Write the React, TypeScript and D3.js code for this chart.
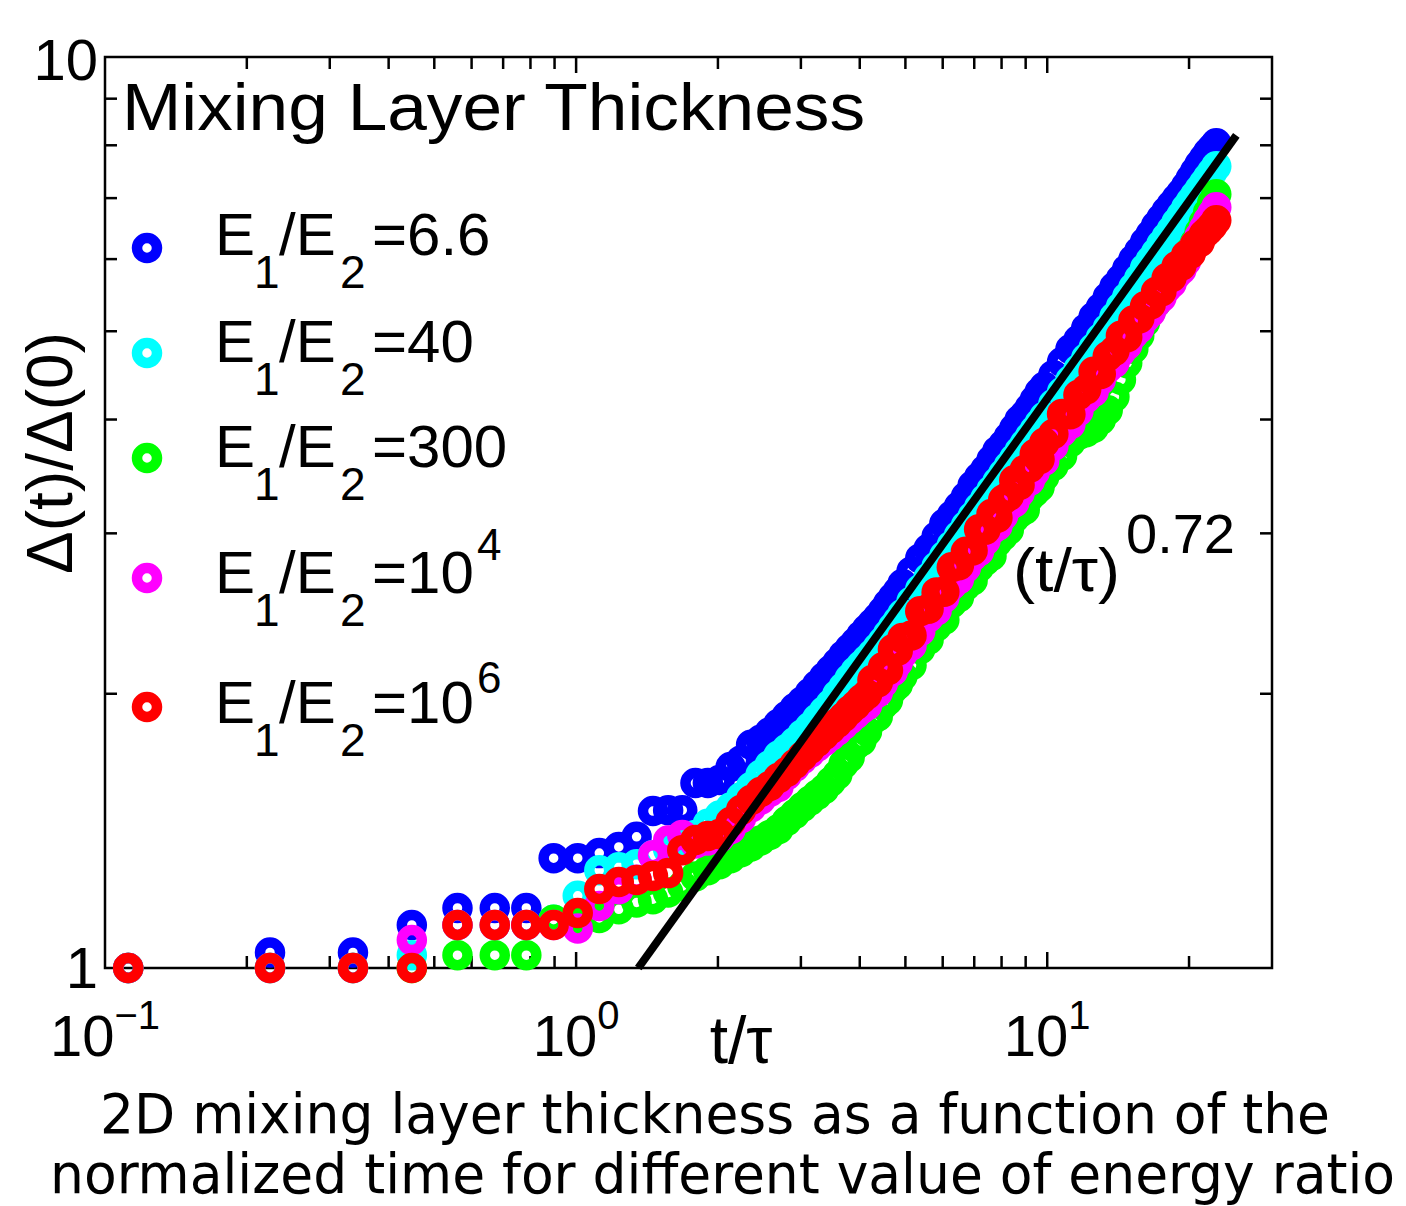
import * as d3 from 'd3'

// sampled times t/tau (every saved step at first, thinned out where the rings pile up)
const tOverTau = [
  0.112, 0.224, 0.336, 0.448, 0.56, 0.672, 0.784, 0.896, 1.008, 1.12,
  1.232, 1.344, 1.456, 1.568, 1.68, 1.792, 1.904, 2.016, 2.128, 2.24,
  2.352, 2.464, 2.576, 2.688, 2.8, 2.912, 3.024, 3.136, 3.248, 3.36,
  3.472, 3.584, 3.696, 3.808, 3.92, 4.032, 4.144, 4.256, 4.368, 4.48,
  4.592, 4.704, 4.816, 4.928,
  5.152, 5.376, 5.6, 5.824, 6.048, 6.272, 6.496, 6.72, 6.944, 7.168,
  7.392, 7.616, 7.84, 8.064, 8.288, 8.512, 8.736, 8.96, 9.184, 9.408,
  9.632, 9.856,
  10.304, 10.752, 11.2, 11.648, 12.096, 12.544, 12.992, 13.44, 13.888, 14.336,
  14.784, 15.232, 15.68, 16.128, 16.576, 17.024, 17.472, 17.92, 18.368, 18.816,
  19.264, 19.712, 20.16, 20.608, 21.056, 21.504, 21.952, 22.4, 22.848,
]

// delta(t)/delta(0) for each energy ratio E1/E2
const ratio6p6 = [
  1.0, 1.04, 1.04, 1.115, 1.164, 1.164, 1.164, 1.32, 1.32, 1.337,
  1.358, 1.393, 1.487, 1.49, 1.49, 1.596, 1.596, 1.608, 1.662, 1.69,
  1.758, 1.78, 1.815, 1.853, 1.891, 1.929, 1.963, 2.004, 2.045, 2.085,
  2.124, 2.163, 2.205, 2.242, 2.278, 2.318, 2.355, 2.39, 2.425, 2.465,
  2.51, 2.55, 2.59, 2.64,
  2.725, 2.816, 2.886, 2.976, 3.074, 3.139, 3.211, 3.29, 3.385, 3.456,
  3.524, 3.61, 3.695, 3.752, 3.827, 3.911, 3.995, 4.048, 4.121, 4.203,
  4.285, 4.345,
  4.475, 4.626, 4.777, 4.889, 5.036, 5.184, 5.304, 5.447, 5.592, 5.707,
  5.85, 5.992, 6.118, 6.261, 6.385, 6.526, 6.648, 6.77, 6.88, 6.99,
  7.09, 7.213, 7.351, 7.485, 7.622, 7.738, 7.854, 7.947, 8.041,
]
const ratio40 = [
  1.0, 1.0, 1.0, 1.033, 1.115, 1.115, 1.115, 1.13, 1.2, 1.28,
  1.29, 1.3, 1.33, 1.35, 1.37, 1.4, 1.44, 1.47, 1.5, 1.54,
  1.58, 1.63, 1.67, 1.71, 1.739, 1.77, 1.806, 1.839, 1.877, 1.913,
  1.949, 1.995, 2.034, 2.078, 2.117, 2.149, 2.181, 2.212, 2.248, 2.284,
  2.324, 2.366, 2.405, 2.446,
  2.526, 2.604, 2.682, 2.759, 2.835, 2.91, 2.984, 3.058, 3.13, 3.204,
  3.275, 3.346, 3.417, 3.487, 3.557, 3.625, 3.694, 3.761, 3.829, 3.896,
  3.962, 4.028,
  4.159, 4.288, 4.417, 4.543, 4.669, 4.793, 4.916, 5.036, 5.184, 5.317,
  5.45, 5.582, 5.714, 5.863, 5.98, 6.095, 6.226, 6.339, 6.454, 6.583,
  6.693, 6.823, 6.935, 7.044, 7.155, 7.263, 7.373, 7.479, 7.586,
]
const ratio300 = [
  1.0, 1.0, 1.0, 1.0, 1.033, 1.033, 1.033, 1.13, 1.13, 1.135,
  1.16, 1.18, 1.19, 1.21, 1.23, 1.26, 1.28, 1.3, 1.32, 1.34,
  1.36, 1.38, 1.4, 1.42, 1.45, 1.476, 1.502, 1.526, 1.549, 1.571,
  1.601, 1.63, 1.675, 1.703, 1.756, 1.774, 1.818, 1.872, 1.888, 1.943,
  1.967, 2.023, 2.046, 2.091,
  2.149, 2.238, 2.293, 2.371, 2.412, 2.514, 2.552, 2.628, 2.663, 2.753,
  2.8, 2.833, 2.936, 2.982, 3.026, 3.116, 3.158, 3.184, 3.291, 3.331,
  3.371, 3.462,
  3.556, 3.648, 3.777, 3.846, 3.873, 3.916, 3.996, 4.094, 4.236, 4.422,
  4.613, 4.785, 4.947, 5.115, 5.257, 5.372, 5.473, 5.587, 5.688, 5.802,
  5.899, 6.014, 6.128, 6.256, 6.419, 6.583, 6.749, 6.915, 7.069,
]
const ratio1e4 = [
  1.0, 1.0, 1.0, 1.073, 1.115, 1.115, 1.115, 1.115, 1.105, 1.17,
  1.22, 1.25, 1.33, 1.38, 1.4, 1.37, 1.38, 1.39, 1.42, 1.46,
  1.5, 1.53, 1.56, 1.58, 1.628, 1.662, 1.695, 1.722, 1.749, 1.774,
  1.798, 1.822, 1.848, 1.874, 1.899, 1.923, 1.942, 1.989, 2.006, 2.054,
  2.101, 2.117, 2.163, 2.211,
  2.26, 2.342, 2.425, 2.468, 2.55, 2.631, 2.671, 2.75, 2.83, 2.867,
  2.945, 3.025, 3.057, 3.136, 3.215, 3.244, 3.322, 3.4, 3.426, 3.504,
  3.582, 3.604,
  3.741, 3.877, 3.952, 4.086, 4.22, 4.289, 4.421, 4.553, 4.616, 4.746,
  4.828, 4.958, 5.036, 5.167, 5.244, 5.372, 5.446, 5.573, 5.645, 5.773,
  5.84, 5.968, 6.097, 6.224, 6.354, 6.483, 6.614, 6.726, 6.84,
]
const ratio1e6 = [
  1.0, 1.0, 1.0, 1.0, 1.115, 1.115, 1.115, 1.115, 1.149, 1.221,
  1.243, 1.249, 1.262, 1.271, 1.347, 1.382, 1.396, 1.403, 1.446, 1.491,
  1.529, 1.56, 1.584, 1.616, 1.641, 1.675, 1.708, 1.74, 1.771, 1.801,
  1.83, 1.858, 1.886, 1.917, 1.943, 1.972, 1.996, 2.071, 2.058, 2.139,
  2.122, 2.238, 2.23, 2.302,
  2.318, 2.464, 2.48, 2.584, 2.588, 2.753, 2.767, 2.864, 2.873, 3.031,
  3.028, 3.15, 3.12, 3.266, 3.297, 3.43, 3.39, 3.523, 3.541, 3.667,
  3.618, 3.772,
  3.856, 4.057, 4.053, 4.255, 4.317, 4.512, 4.488, 4.693, 4.758, 4.942,
  4.926, 5.136, 5.165, 5.326, 5.35, 5.523, 5.529, 5.716, 5.731, 5.891,
  5.899, 6.059, 6.082, 6.224, 6.259, 6.386, 6.449, 6.525, 6.619,
]

const legendValues = ['6.6', '40', '300', '10', '10']
const legendExponents = ['', '', '', '4', '6']
const seriesColors = ['#0000ff', '#00ffff', '#00ff00', '#ff00ff', '#ff0000']

const xTickExponents = [-1, 0, 1]
const yTickValues = [1, 10]

// power law fit (t/tau)^0.72, drawn from where it hits 1
const fitStart = 1.355
const fitEnd = 25.2
const fitExponent = 0.72

const HELV = 'Liberation Sans, Arial, Helvetica, sans-serif'

export default function App() {
  const W = 1406
  const H = 1206
  const x = d3.scaleLog().domain([0.1, 30]).range([105, 1272])
  const y = d3.scaleLog().domain([1, 10]).range([968, 57])
  const [left, right] = x.range()
  const [bottom, top] = y.range()

  const series = [ratio6p6, ratio40, ratio300, ratio1e4, ratio1e6].map((values, i) => ({
    values,
    color: seriesColors[i],
    label: legendValues[i],
    exp: legendExponents[i],
  }))

  const isDecade = (v: number) => Math.abs(Math.log10(v) - Math.round(Math.log10(v))) < 1e-6
  const xMinor = x.ticks().filter(t => !isDecade(t) && x(t) < right - 1)
  const xMajor = x.ticks().filter(t => isDecade(t) && x(t) > left + 1 && x(t) < right - 1)
  const yMinor = y.ticks().filter(t => !isDecade(t))

  const fitPath = d3.line<number>()
    .x(t => x(t))
    .y(t => y(Math.pow(t / fitStart, fitExponent)))([fitStart, fitEnd])

  const ringR = 10
  const ringW = 10.5
  const minorLen = 12
  const majorLen = 16

  // legend layout
  const legendX = 147
  const legendMarkY = [248, 353, 458, 578, 707]
  const legendBase = [255, 362, 467, 593, 723]

  return (
    <svg width={W} height={H} style={{ position: 'absolute', left: 0, top: 0, background: '#fff' }}
      fontFamily={HELV}>
      <rect x={0} y={0} width={W} height={H} fill="#fff" />

      {/* axes box and ticks */}
      <g stroke="#000" strokeWidth={2.5} fill="none">
        <rect x={left} y={top} width={right - left} height={bottom - top} />
        {xMinor.map((t, i) => (
          <g key={'xm' + i}>
            <line x1={x(t)} x2={x(t)} y1={bottom} y2={bottom - minorLen} />
            <line x1={x(t)} x2={x(t)} y1={top} y2={top + minorLen} />
          </g>
        ))}
        {xMajor.map((t, i) => (
          <g key={'xM' + i}>
            <line x1={x(t)} x2={x(t)} y1={bottom} y2={bottom - majorLen} />
            <line x1={x(t)} x2={x(t)} y1={top} y2={top + majorLen} />
          </g>
        ))}
        {yMinor.map((v, i) => (
          <g key={'ym' + i}>
            <line x1={left} x2={left + minorLen} y1={y(v)} y2={y(v)} />
            <line x1={right} x2={right - minorLen} y1={y(v)} y2={y(v)} />
          </g>
        ))}
      </g>

      {/* data rings, later series on top */}
      {series.map((s, si) => (
        <g key={'s' + si} fill="none" stroke={s.color} strokeWidth={ringW}>
          {s.values.map((v, i) => (
            <circle key={i} cx={x(tOverTau[i])} cy={y(v)} r={ringR} />
          ))}
        </g>
      ))}

      {/* fit line */}
      <path d={fitPath ?? ''} stroke="#000" strokeWidth={8} fill="none" />

      {/* tick labels */}
      {yTickValues.map(v => (
        <text key={'yt' + v} x={98} y={y(v) + (v === 1 ? 20 : 23)} textAnchor="end" fontSize={58}>{v}</text>
      ))}
      {xTickExponents.map(e => (
        <text key={'xt' + e} x={x(Math.pow(10, e))} y={1056} textAnchor="middle" fontSize={58}>
          10<tspan dy={-27} fontSize={40}>{e < 0 ? '\u2212' + (-e) : String(e)}</tspan>
        </text>
      ))}

      {/* axis labels */}
      <text x={741} y={1063} textAnchor="middle" fontSize={66}>t/τ</text>
      <text transform="translate(72,453) rotate(-90)" textAnchor="middle" fontSize={64}>Δ(t)/Δ(0)</text>

      {/* title in the axes */}
      <text x={122} y={130} fontSize={67} textLength={743} lengthAdjust="spacingAndGlyphs">Mixing Layer Thickness</text>

      {/* legend */}
      {series.map((s, i) => (
        <g key={'lg' + i}>
          <circle cx={legendX} cy={legendMarkY[i]} r={ringR} fill="none" stroke={s.color} strokeWidth={ringW} />
          <text y={legendBase[i]} fontSize={60}>
            <tspan x={215}>E</tspan>
            <tspan x={254} dy={33} fontSize={46}>1</tspan>
            <tspan x={279} dy={-33}>/E</tspan>
            <tspan x={340} dy={33} fontSize={46}>2</tspan>
            <tspan x={372} dy={-33}>={s.label}</tspan>
            {s.exp ? <tspan x={477} dy={i === 3 ? -33 : -30} fontSize={44}>{s.exp}</tspan> : null}
          </text>
        </g>
      ))}

      {/* fit annotation */}
      <text x={1013} y={591} fontSize={62} textLength={107} lengthAdjust="spacingAndGlyphs">(t/τ)</text>
      <text x={1126} y={553} fontSize={56}>0.72</text>

      {/* caption */}
      <g fontFamily="DejaVu Sans Condensed, DejaVu Sans, sans-serif" fontSize={56}>
        <text x={100} y={1133} textLength={1230} lengthAdjust="spacingAndGlyphs">2D mixing layer thickness as a function of the</text>
        <text x={50} y={1193} textLength={1345} lengthAdjust="spacingAndGlyphs">normalized time for different value of energy ratio</text>
      </g>
    </svg>
  )
}
